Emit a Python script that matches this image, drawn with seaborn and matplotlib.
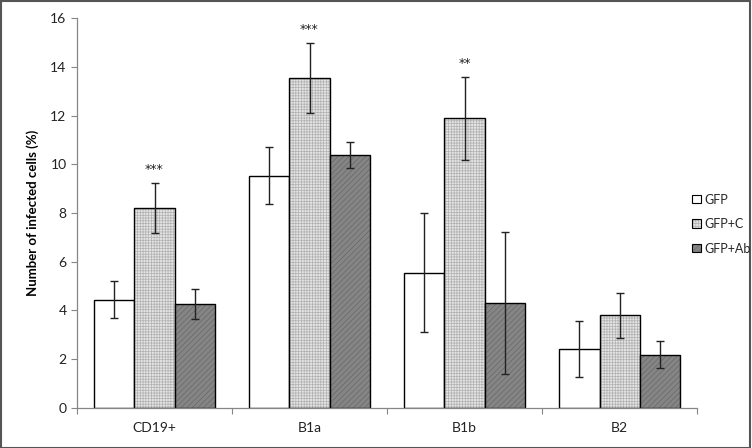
import numpy as np
import pandas as pd
import matplotlib
matplotlib.use("Agg")
import matplotlib.pyplot as plt
import matplotlib.colors as mcolors
from matplotlib.patches import Patch, Rectangle
import seaborn as sns

categories = ["CD19+", "B1a", "B1b", "B2"]
groups = ["GFP", "GFP+C", "GFP+Ab"]
gfp_vals = [4.45, 9.52, 5.54, 2.43]
gfpc_vals = [8.2, 13.53, 11.88, 3.8]
gfpab_vals = [4.27, 10.38, 4.31, 2.18]
gfp_err = [0.75, 1.17, 2.44, 1.15]
gfpc_err = [1.03, 1.43, 1.69, 0.93]
gfpab_err = [0.6, 0.55, 2.9, 0.55]
stars = ["***", "***", "**", ""]
yticks = [0, 2, 4, 6, 8, 10, 12, 14, 16]

sns.set_theme(style="white")
plt.rcParams["font.family"] = ["Lato", "DejaVu Sans"]
plt.rcParams["hatch.linewidth"] = 0.5

df = pd.DataFrame({
    "cat": categories * 3,
    "group": [g for g in groups for _ in categories],
    "val": gfp_vals + gfpc_vals + gfpab_vals,
})
errs = {"GFP": gfp_err, "GFP+C": gfpc_err, "GFP+Ab": gfpab_err}
vals = {"GFP": gfp_vals, "GFP+C": gfpc_vals, "GFP+Ab": gfpab_vals}

face = {"GFP": "white", "GFP+C": "#e4e4e4", "GFP+Ab": "#858585"}
hatch = {"GFP": None, "GFP+C": "++++++", "GFP+Ab": "//////"}
hcol = {"GFP": "black", "GFP+C": "#b0b0b0", "GFP+Ab": "#686868"}

fig = plt.figure(figsize=(7.52, 4.48), dpi=100)
ax = fig.add_axes([0.1024, 0.0893, 0.8245, 0.8705])

sns.barplot(data=df, x="cat", y="val", hue="group", hue_order=groups,
            order=categories, errorbar=None, width=0.775, ax=ax,
            legend=False, palette=[face[g] for g in groups],
            edgecolor="black", linewidth=1.0, saturation=1)

for g, cont in zip(groups, ax.containers):
    xs = []
    for p in cont.patches:
        if hatch[g]:
            p.set_hatch(hatch[g])
            p._hatch_color = mcolors.to_rgba(hcol[g])
        xs.append(p.get_x() + p.get_width() / 2)
    ax.errorbar(xs, vals[g], yerr=errs[g], fmt="none", ecolor="#222222",
                elinewidth=1.0, capsize=3, capthick=1.0, zorder=5)
    if g == "GFP+C":
        for x, v, e, s in zip(xs, vals[g], errs[g], stars):
            if s:
                ax.text(x, v + e + 0.3, s, ha="center", va="bottom",
                        fontsize=9, color="#222222", family="DejaVu Sans")

ax.set_ylim(0, 16)
ax.set_xlim(-0.5, 3.5)
ax.set_yticks(yticks)
ax.set_ylabel("Number of infected cells (%)", fontsize=9.5, fontweight="bold",
              color="black", labelpad=8)
ax.set_xlabel("")
ax.set_xticks(np.arange(-0.5, 4.0, 1.0), minor=True)
ax.tick_params(axis="x", which="major", length=0, pad=10, labelsize=10,
               colors="#222222")
ax.tick_params(axis="x", which="minor", length=4, width=0.8, color="#868686",
               direction="out", bottom=True)
ax.tick_params(axis="y", which="major", length=4, width=0.8, color="#868686",
               direction="out", left=True, labelsize=10, labelcolor="#222222")
for s in ["top", "right"]:
    ax.spines[s].set_visible(False)
for s in ["left", "bottom"]:
    ax.spines[s].set_color("#868686")
    ax.spines[s].set_linewidth(0.9)

handles = []
for g in groups:
    h = Patch(facecolor=face[g], edgecolor="black", linewidth=0.8,
              hatch=hatch[g], label=g)
    if hatch[g]:
        h._hatch_color = mcolors.to_rgba(hcol[g])
    handles.append(h)
fig.legend(handles=handles, loc="center left", bbox_to_anchor=(0.914, 0.5),
           frameon=False, fontsize=9, handlelength=0.7, handleheight=0.7,
           handletextpad=0.3, labelspacing=1.0, borderaxespad=0)

fig.patches.append(Rectangle((0.001, 0.001), 0.997, 0.997, transform=fig.transFigure,
                             fill=False, edgecolor="#555555", linewidth=1.5))

fig.savefig("out.png", dpi=100)
